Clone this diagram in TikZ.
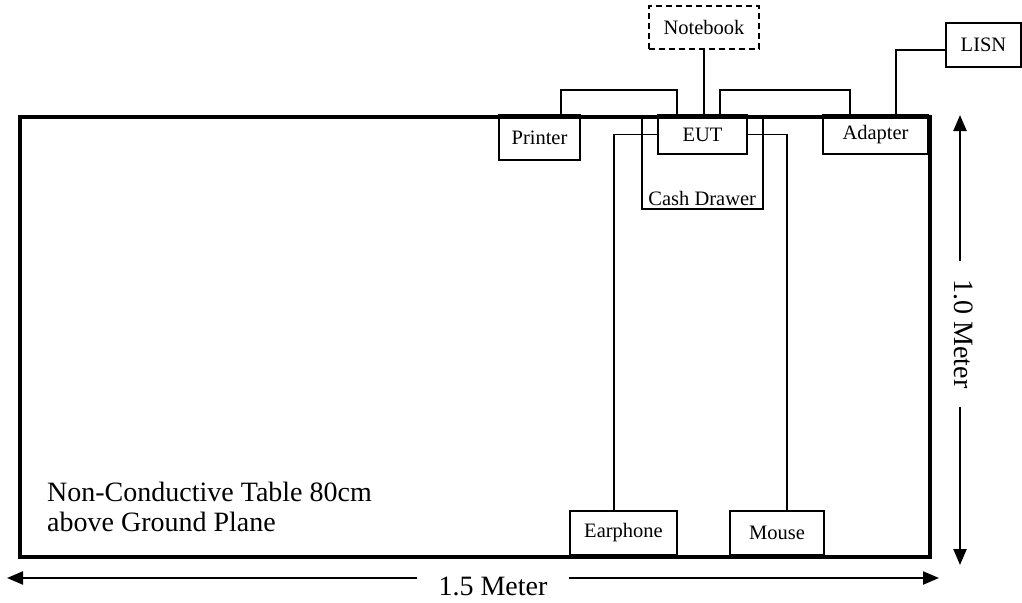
\documentclass[tikz,border=0pt]{standalone}
\usepackage{fontspec}
\setmainfont{Liberation Serif}
\usetikzlibrary{arrows.meta}
\begin{document}
\begin{tikzpicture}[x=1pt,y=-1pt,
  box/.style={draw, line width=1.8pt, inner sep=0pt, font=\fontsize{20.5}{24}\selectfont},
  cable/.style={line width=1.6pt},
  dimarr/.style={line width=2.2pt, -{Triangle[length=16pt,width=13pt]}},
  bigtext/.style={font=\fontsize{28}{30}\selectfont}]
\useasboundingbox (0,0) rectangle (1022,602);
% devices
\node[box, dashed, dash pattern=on 6pt off 4pt, minimum width=110pt, minimum height=43pt] (notebook) at (704,27.5) {Notebook};
\node[box, minimum width=75pt, minimum height=44pt] (lisn) at (983.5,45) {LISN};
\node[box, minimum width=81pt, minimum height=45pt] (printer) at (539.5,137.5) {Printer};
\node[box, minimum width=89pt, minimum height=39pt] (eut) at (702.5,134.5) {EUT};
\node[box, line width=1.5pt, minimum width=121pt, minimum height=93pt, anchor=north west,
  label={[anchor=south, font=\fontsize{20.5}{24}\selectfont]south:Cash Drawer}] (cash) at (641,115) {};
\node[box, line width=1.5pt, minimum width=105pt, minimum height=39pt] (adapter) at (875.5,134.5) {Adapter};
\node[box, minimum width=107pt, minimum height=44pt] (earphone) at (623.5,533) {Earphone};
\node[box, minimum width=94pt, minimum height=44pt] (mouse) at (777,533) {Mouse};
% cables
\draw[cable] ([xshift=63pt]printer.north west) -- ++(0,-24) -| ([xshift=20pt]eut.north west);
\draw[cable] (notebook.south) -- (notebook.south |- eut.north);
\draw[cable] ([xshift=63pt]eut.north west) -- ++(0,-24) -| ([xshift=28pt]adapter.north west);
\draw[cable] ([xshift=74pt]adapter.north west) |- ([yshift=-5pt]lisn.west);
\draw[cable] (eut.west) -| ([xshift=-9.5pt]earphone.north);
\draw[cable] (eut.east) -| ([xshift=10pt]mouse.north);
% table
\node[draw, line width=4pt, minimum width=910pt, minimum height=440pt, anchor=north west, inner sep=0pt] (table) at (18,115) {};
\node[bigtext, align=left, anchor=north west, inner sep=0pt] (tabletext) at (47,482) {Non-Conductive Table 80cm\\above Ground Plane};
% dimensions
\coordinate (hl) at (7,578);
\coordinate (hr) at (939,578);
\node[bigtext, inner xsep=21pt, inner ysep=0pt] (hlab) at (493,586) {1.5 Meter};
\draw[dimarr] (hl -| hlab.west) -- (hl);
\draw[dimarr] (hr -| hlab.east) -- (hr);
\coordinate (vt) at (960,115);
\coordinate (vb) at (960,565);
\node[bigtext, rotate=-90, inner xsep=18pt, inner ysep=0pt] (vlab) at (964,334) {1.0 Meter};
\draw[dimarr] (vt |- vlab.west) -- (vt);
\draw[dimarr] (vb |- vlab.east) -- (vb);
\end{tikzpicture}
\end{document}
